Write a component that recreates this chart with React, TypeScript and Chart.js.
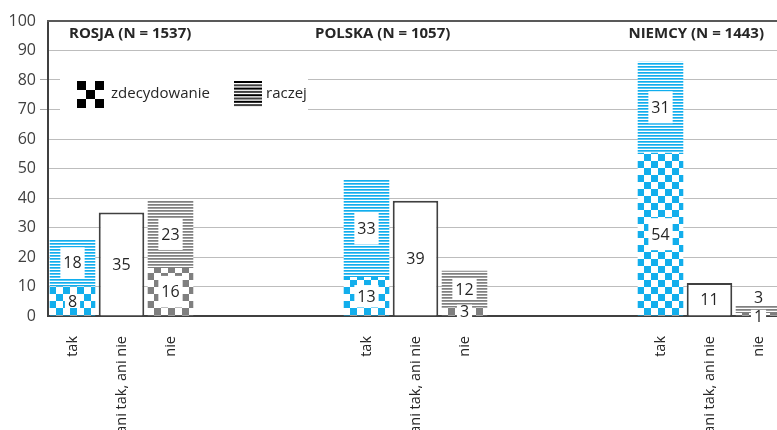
import React, { useEffect, useRef } from "react";
import { Chart, registerables } from "chart.js";

Chart.register(...registerables);

// ---- data ----
const groupTitles = ["ROSJA (N = 1537)", "POLSKA (N = 1057)", "NIEMCY (N = 1443)"];
const groupCategories = ["tak", "ani tak, ani nie", "nie"];
const legendLabels = ["zdecydowanie", "raczej"];
const yTickStep = 10;
const yMax = 100;

// bar heights as drawn (per group: Rosja, Polska, Niemcy)
const takZdecydowanie = [10, 13.2, 55.3];
const takRaczej = [16, 32.9, 30.9];
const aniTakAniNie = [35.1, 39.1, 11.2];
const nieZdecydowanie = [16.3, 2.8, 1];
const nieRaczej = [23, 12.5, 2.7];

// printed data labels
const takZdecydowanieLabels = [8, 13, 54];
const takRaczejLabels = [18, 33, 31];
const aniTakAniNieLabels = [35, 39, 11];
const nieZdecydowanieLabels = [16, 3, 1];
const nieRaczejLabels = [23, 12, 3];

const GAP = 3; // empty category slots between groups
const SLOT = groupCategories.length + GAP;
const nCats = groupTitles.length * groupCategories.length + (groupTitles.length - 1) * GAP;

const categories: string[] = Array.from({ length: nCats }, (_, i) =>
  i % SLOT < groupCategories.length ? groupCategories[i % SLOT] : ""
);

function spread(vals: (number | string)[], offset: number) {
  const out: any[] = Array(nCats).fill(null);
  vals.forEach((v, g) => (out[g * SLOT + offset] = v));
  return out;
}

function checker(ctx: CanvasRenderingContext2D, color: string, cell: number) {
  const c = document.createElement("canvas");
  c.width = c.height = cell * 2;
  const p = c.getContext("2d")!;
  p.fillStyle = "#ffffff";
  p.fillRect(0, 0, cell * 2, cell * 2);
  p.fillStyle = color;
  p.fillRect(0, 0, cell, cell);
  p.fillRect(cell, cell, cell, cell);
  return ctx.createPattern(c, "repeat")!;
}

function stripes(ctx: CanvasRenderingContext2D, rows: string[]) {
  const c = document.createElement("canvas");
  c.width = 4;
  c.height = rows.length;
  const p = c.getContext("2d")!;
  rows.forEach((col, i) => {
    p.fillStyle = col;
    p.fillRect(0, i, 4, 1);
  });
  return ctx.createPattern(c, "repeat")!;
}

const FONT = '"Open Sans", sans-serif';
const TEXT = "#262626";

const labelPlugin = {
  id: "segLabels",
  afterDatasetsDraw(chart: any) {
    const ctx: CanvasRenderingContext2D = chart.ctx;
    const perCat: Record<number, any[]> = {};
    chart.data.datasets.forEach((ds: any, di: number) => {
      const meta = chart.getDatasetMeta(di);
      meta.data.forEach((el: any, i: number) => {
        const v = ds.data[i];
        if (v == null) return;
        const { x, y, base } = el.getProps(["x", "y", "base"], true);
        const top = Math.min(y, base);
        const bot = Math.max(y, base);
        (perCat[i] = perCat[i] || []).push({
          x,
          top,
          bot,
          cy: (top + bot) / 2,
          text: String(ds.segLabels[i]),
          box: ds.segBox,
        });
      });
    });
    ctx.save();
    ctx.font = "16px " + FONT;
    ctx.textAlign = "center";
    ctx.textBaseline = "middle";
    Object.values(perCat).forEach((items) => {
      if (items.length === 2 && items[0].cy - items[1].cy < 16) {
        items[0].cy += 2.5;
        items[1].cy = items[0].cy - 19;
      }
      items.forEach((it) => {
        const tw = ctx.measureText(it.text).width;
        if (it.box) {
          const segH = it.bot - it.top;
          const h = Math.min(32, Math.max(segH - 16, 14));
          const w = tw + 6;
          ctx.fillStyle = "#ffffff";
          ctx.fillRect(it.x - w / 2, it.cy - h / 2, w, h);
        }
        ctx.fillStyle = TEXT;
        ctx.fillText(it.text, it.x, it.cy + 1);
      });
    });
    ctx.restore();
  },
};

const decorPlugin = {
  id: "decor",
  afterDraw(chart: any) {
    const ctx: CanvasRenderingContext2D = chart.ctx;
    const a = chart.chartArea;
    ctx.save();
    // top frame line
    ctx.strokeStyle = "#595959";
    ctx.lineWidth = 2;
    ctx.beginPath();
    ctx.moveTo(a.left - 1, a.top);
    ctx.lineTo(a.right, a.top);
    ctx.stroke();

    // group titles
    ctx.font = "bold 15px " + FONT;
    ctx.fillStyle = TEXT;
    ctx.textBaseline = "middle";
    ctx.textAlign = "left";
    ctx.fillText(groupTitles[0], 69, 34);
    ctx.fillText(groupTitles[1], 315, 34);
    ctx.textAlign = "right";
    ctx.fillText(groupTitles[2], 764, 34);

    // legend
    ctx.fillStyle = "#ffffff";
    ctx.fillRect(60, 64, 248, 58);
    ctx.fillStyle = "#000000";
    const lx = 77, ly = 81, c = 9;
    [[0, 0], [2, 0], [1, 1], [0, 2], [2, 2]].forEach(([i, j]) =>
      ctx.fillRect(lx + i * c, ly + j * c, c, c)
    );
    const sx = 234, sy = 81;
    for (let k = 0; k < 8; k++) {
      ctx.fillStyle = k % 2 === 0 ? "#000000" : "#404040";
      ctx.fillRect(sx, sy + k * 3.3, 28, 2);
    }
    ctx.font = "15px " + FONT;
    ctx.fillStyle = TEXT;
    ctx.textAlign = "left";
    ctx.fillText(legendLabels[0], 111, 94);
    ctx.fillText(legendLabels[1], 266, 94);
    ctx.restore();
  },
};

export default function App() {
  const ref = useRef<HTMLCanvasElement>(null);
  useEffect(() => {
    document.body.style.overflow = "hidden";
    const canvas = ref.current!;
    const ctx = canvas.getContext("2d")!;
    const blueChecker = checker(ctx, "#12AEEC", 7);
    const greyChecker = checker(ctx, "#7F7F7F", 7);
    const blueStripes = stripes(ctx, ["#10AEEE", "#5CC6F2", "#ffffff"]);
    const greyStripes = stripes(ctx, ["#808080", "#A0A0A0", "#ffffff"]);

    const common = { borderWidth: 0, barPercentage: 0.93, categoryPercentage: 1 };
    const chart = new Chart(canvas, {
      type: "bar",
      data: {
        labels: categories,
        datasets: [
          { ...common, label: "tak zdecydowanie", data: spread(takZdecydowanie, 0), backgroundColor: blueChecker, segLabels: spread(takZdecydowanieLabels, 0), segBox: true } as any,
          { ...common, label: "tak raczej", data: spread(takRaczej, 0), backgroundColor: blueStripes, segLabels: spread(takRaczejLabels, 0), segBox: true } as any,
          { ...common, label: "ani tak, ani nie", data: spread(aniTakAniNie, 1), backgroundColor: "#ffffff", borderColor: "#404040", borderWidth: 2, borderSkipped: "bottom", segLabels: spread(aniTakAniNieLabels, 1), segBox: false } as any,
          { ...common, label: "nie zdecydowanie", data: spread(nieZdecydowanie, 2), backgroundColor: greyChecker, segLabels: spread(nieZdecydowanieLabels, 2), segBox: true } as any,
          { ...common, label: "nie raczej", data: spread(nieRaczej, 2), backgroundColor: greyStripes, segLabels: spread(nieRaczejLabels, 2), segBox: true } as any,
        ],
      },
      options: {
        animation: false,
        responsive: false,
        layout: { padding: { top: 21, right: 1, left: 0, bottom: 0 } },
        plugins: { legend: { display: false }, tooltip: { enabled: false }, title: { display: false } },
        scales: {
          x: {
            stacked: true,
            grid: { display: false },
            border: { display: true, color: "#404040", width: 2 },
            ticks: {
              autoSkip: false,
              maxRotation: 90,
              minRotation: 90,
              padding: 12,
              color: TEXT,
              font: { family: FONT, size: 14.5 },
            },
            afterFit: (s: any) => {
              s.height = 114;
              s.paddingLeft = 0;
              s.paddingRight = 0;
            },
          },
          y: {
            stacked: true,
            min: 0,
            max: yMax,
            ticks: {
              stepSize: yTickStep,
              padding: 4,
              color: "#404040",
              font: { family: FONT, size: 16 },
            },
            grid: {
              color: "#BDBDBD",
              lineWidth: 1,
              tickLength: 8,
              tickColor: (c: any) =>
                c.tick && (c.tick.value === 70 || c.tick.value === 80) ? "#A6A6A6" : "rgba(0,0,0,0)",
            },
            border: { display: true, color: "#404040", width: 2 },
            afterFit: (s: any) => {
              s.width = 48;
            },
          },
        },
      },
      plugins: [labelPlugin, decorPlugin],
    });
    return () => chart.destroy();
  }, []);
  return (
    <div style={{ position: "fixed", left: 0, top: 0, width: 784, height: 430 }}>
      <canvas ref={ref} width={784} height={430} style={{ width: 784, height: 430, display: "block" }} />
    </div>
  );
}
